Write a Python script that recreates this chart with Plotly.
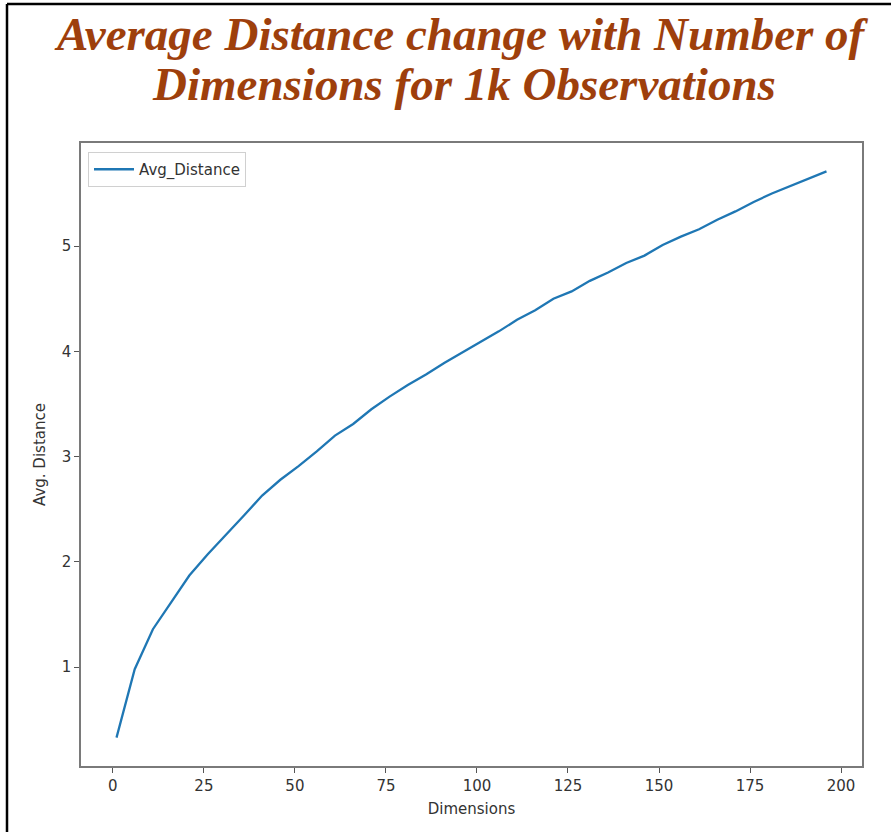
import plotly.graph_objects as go

dimensions = list(range(1, 197, 5))
avg_distance = [0.33, 0.98, 1.36, 1.62, 1.87, 2.07, 2.25, 2.44, 2.63, 2.78,
                2.91, 3.05, 3.20, 3.31, 3.45, 3.57, 3.68, 3.78, 3.89, 3.99,
                4.09, 4.19, 4.30, 4.39, 4.50, 4.57, 4.67, 4.75, 4.84, 4.91,
                5.01, 5.09, 5.16, 5.25, 5.33, 5.42, 5.50, 5.57, 5.64, 5.71]
x_ticks = [0, 25, 50, 75, 100, 125, 150, 175, 200]
y_ticks = [1, 2, 3, 4, 5]
title_lines = ["Average Distance change with Number of",
               "Dimensions for 1k Observations"]

W, H = 891, 832
L, R, T, B = 81, 29, 143, 66
pw, ph = W - L - R, H - T - B


def px_x(x):
    return (x - L) / pw


def px_y(y):
    return 1 - (y - T) / ph


fig = go.Figure()
fig.add_trace(go.Scatter(x=dimensions, y=avg_distance, mode="lines",
                         name="Avg_Distance",
                         line=dict(color="#1f77b4", width=2.3)))

label_font = dict(family="DejaVu Sans", size=15, color="#333")
axis_common = dict(showgrid=False, zeroline=False, showline=True, mirror=True,
                   linecolor="#7a7a7a", linewidth=1.6, ticks="outside",
                   ticklen=5, tickwidth=1.3, tickcolor="#555",
                   tickfont=label_font)

fig.update_xaxes(range=[-8.75, 205.75], tickvals=x_ticks,
                 title=dict(text="Dimensions", font=label_font, standoff=10),
                 **axis_common)
fig.update_yaxes(range=[0.06, 5.98], tickvals=y_ticks,
                 title=dict(text="Avg. Distance", font=label_font, standoff=12),
                 **axis_common)

# outer image frame (left and top edges)
fig.add_shape(type="line", xref="paper", yref="paper", x0=px_x(7), x1=px_x(7),
              y0=px_y(H + 5), y1=px_y(4), line=dict(color="black", width=2.5))
fig.add_shape(type="line", xref="paper", yref="paper", x0=px_x(7), x1=px_x(W + 5),
              y0=px_y(4), y1=px_y(4), line=dict(color="black", width=2.5))

title_font = dict(family="Liberation Serif", size=47, color="#9e3f0c",
                  weight="bold", style="italic")
for txt, cx, cy in [(title_lines[0], 461, 34), (title_lines[1], 464, 84)]:
    fig.add_annotation(text=txt, xref="paper", yref="paper",
                       x=px_x(cx), y=px_y(cy), xanchor="center", yanchor="middle",
                       showarrow=False, font=title_font)

fig.update_layout(
    width=W, height=H,
    margin=dict(l=L, r=R, t=T, b=B),
    paper_bgcolor="white", plot_bgcolor="white",
    legend=dict(x=px_x(88), y=px_y(152), xanchor="left", yanchor="top",
                bgcolor="white", bordercolor="#d0d0d0", borderwidth=1,
                font=label_font, itemwidth=40),
    showlegend=True,
)

fig.write_html("out.html", config={"displayModeBar": False},
               post_script="document.body.style.margin='0';")
